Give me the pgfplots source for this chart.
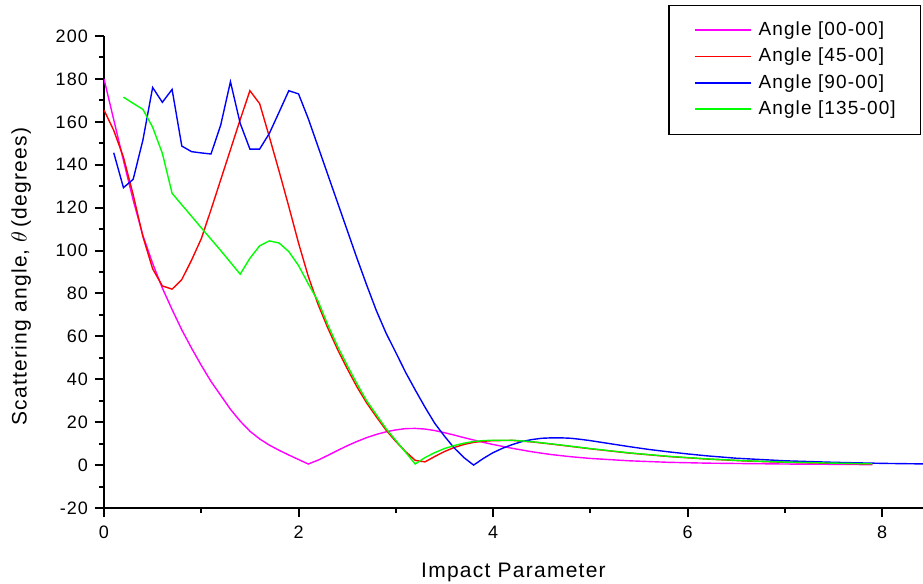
\documentclass[border=0pt]{standalone}
\usepackage{fontspec}
\setmainfont{Liberation Sans}[LetterSpace=6]
\usepackage{pgfplots}
\pgfplotsset{compat=1.18}
\definecolor{cMag}{RGB}{255,0,255}
\definecolor{cRed}{RGB}{255,0,0}
\definecolor{cBlue}{RGB}{0,0,255}
\definecolor{cGreen}{RGB}{0,255,0}

\begin{document}
\begin{tikzpicture}
\begin{axis}[
    name=ax,
    scale only axis,
    width=409.5pt, height=236pt,
    xmin=0, xmax=8.42, ymin=-20, ymax=200,
    axis x line=bottom, axis y line=left,
    axis line style={-, line width=1pt},
    xtick={0,2,...,8}, minor xtick={1,3,5,7},
    ytick={-20,0,...,200}, minor ytick={-10,10,...,190},
    tick align=outside,
    major tick length=4.5pt, minor tick length=2.5pt,
    every tick/.style={line width=1pt, black},
    /pgf/number format/assume math mode=true,
    ticklabel style={font=\fontsize{9}{10}\selectfont},
    xticklabel style={yshift=-1pt},
    label style={font=\fontsize{10.5}{12}\selectfont},
    xlabel={Impact Parameter},
    ylabel={Scattering angle, $\theta$\,(degrees)},
    xlabel style={at={(axis description cs:0.5,-0.1375)}, anchor=center},
    ylabel style={at={(axis description cs:-0.101,0.49)}, anchor=center},
    legend cell align=left,
    legend image code/.code={\draw[#1, line width=0.9pt] (0pt,0.25pt) -- (28pt,0.25pt);},
    legend style={at={(0.9976,1.0657)}, anchor=north east, draw=black, line width=0.75pt,
        font=\fontsize{9.5}{11}\selectfont,
        inner xsep=12.25pt, inner ysep=7.9pt, row sep=4.2pt,
        nodes={inner sep=0pt, text height=7pt, text depth=2pt},
        /tikz/every odd column/.append style={column sep=3.5pt}},
    every axis plot/.append style={line width=0.7pt},
]
% Angle [00-00]
\addplot[cMag] coordinates {
(0,180) (0.1,161) (0.2,142) (0.3,123.5) (0.4,107) (0.5,94) (0.6,82.5) (0.7,72.5)
(0.8,63) (0.9,54.5) (1.0,46.5) (1.1,39) (1.2,32.5) (1.3,26) (1.4,20.5) (1.5,15.8)
(1.6,12.2) (1.7,9.3) (1.8,6.9) (1.9,4.7) (2.0,2.6) (2.1,0.5) (2.2,2.3) (2.3,4.5)
(2.4,6.8) (2.5,9) (2.6,11) (2.7,12.8) (2.8,14.3) (2.9,15.5) (3.0,16.4) (3.1,17)
(3.2,17.1) (3.3,16.8) (3.4,16.1) (3.5,15.1) (3.6,14) (3.7,12.8) (3.8,11.7) (3.9,10.6)
(4.0,9.6) (4.2,7.8) (4.4,6.2) (4.6,4.9) (4.8,3.9) (5.0,3.1) (5.4,2) (5.8,1.3)
(6.2,0.9) (6.6,0.7) (7.0,0.5) (7.5,0.35) (7.9,0.2)
};
\addlegendentry{Angle [00-00]}
% Angle [45-00]
\addplot[cRed] coordinates {
(0,165.5) (0.1,156) (0.2,143.5) (0.3,126) (0.4,106.5) (0.5,91.5) (0.6,83.5) (0.7,82)
(0.8,86.5) (0.9,95.5) (1.0,105.5) (1.1,119) (1.2,133) (1.3,147) (1.4,161) (1.5,174.5)
(1.6,168.5) (1.7,153) (1.8,137) (1.9,120.5) (2.0,103.5) (2.1,88) (2.2,75) (2.3,64)
(2.4,54) (2.5,45) (2.6,36.5) (2.7,29) (2.8,22.5) (2.9,16.3) (3.0,11) (3.1,6.3)
(3.2,2.2) (3.3,1.5) (3.4,4) (3.5,6.3) (3.6,8.2) (3.7,9.6) (3.8,10.6) (3.9,11.1)
(4.0,11.4) (4.2,11.5) (4.4,10.8) (4.6,9.8) (4.8,8.7) (5.0,7.6) (5.4,5.6) (5.8,4)
(6.2,2.8) (6.6,1.9) (7.0,1.3) (7.4,0.9) (7.9,0.5)
};
\addlegendentry{Angle [45-00]}
% Angle [90-00]
\addplot[cBlue] coordinates {
(0.1,145.6) (0.2,129.3) (0.3,133.2) (0.4,151.5) (0.5,176) (0.6,169.1) (0.7,175.1)
(0.8,148.7) (0.9,146.1) (1.0,145.5) (1.1,145) (1.2,158.5) (1.3,178.7) (1.4,159.3)
(1.5,147.3) (1.6,147.3) (1.7,154.6) (1.8,164.5) (1.9,174.5) (2.0,173) (2.1,161.5)
(2.2,148.5) (2.3,135.5) (2.4,122.5) (2.5,109.5) (2.6,96.5) (2.7,84) (2.8,72)
(2.9,61.5) (3.0,52.5) (3.1,43.3) (3.2,35) (3.3,27) (3.4,19.5) (3.5,13.5) (3.6,8)
(3.7,3.5) (3.8,0) (3.9,3.1) (4.0,5.8) (4.1,7.9) (4.2,9.6) (4.3,11) (4.4,11.9)
(4.5,12.5) (4.6,12.7) (4.7,12.7) (4.8,12.5) (4.9,12) (5.0,11.4) (5.2,10) (5.4,8.6)
(5.6,7.3) (5.8,6.2) (6.0,5.2) (6.2,4.3) (6.5,3.2) (7.0,2) (7.5,1.3) (8.0,0.8) (8.5,0.5)
};
\addlegendentry{Angle [90-00]}
% Angle [135-00]
\addplot[cGreen] coordinates {
(0.2,171.5) (0.3,168.6) (0.4,165.8) (0.5,157.5) (0.6,145.3) (0.7,126.7) (0.8,121.3)
(0.9,116) (1.0,110.6) (1.1,105.3) (1.2,100) (1.3,94.5) (1.4,89) (1.5,96.4) (1.6,102.2)
(1.7,104.5) (1.8,103.5) (1.9,99.5) (2.0,93) (2.1,84.5) (2.2,76.5) (2.3,65.5) (2.4,55.5)
(2.5,46.5) (2.6,38) (2.7,30) (2.8,23.5) (2.9,17) (3.0,11.5) (3.1,6) (3.2,0.5)
(3.3,3.5) (3.4,5.8) (3.5,7.7) (3.6,9.1) (3.7,10.2) (3.8,11) (3.9,11.4) (4.0,11.6)
(4.2,11.6) (4.4,10.9) (4.6,9.9) (4.8,8.8) (5.0,7.7) (5.4,5.7) (5.8,4.1) (6.2,2.9)
(6.6,2) (7.0,1.4) (7.4,1) (7.9,0.6)
};
\addlegendentry{Angle [135-00]}
\end{axis}
\pgfresetboundingbox
\path[use as bounding box] ([shift={(-52pt,-38pt)}]ax.south west) rectangle ([shift={(0pt,18pt)}]ax.north east);
\end{tikzpicture}
\end{document}
